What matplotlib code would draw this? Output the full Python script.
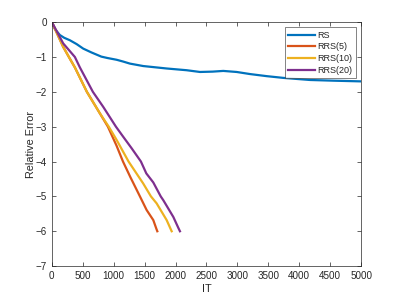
import matplotlib

matplotlib.use("Agg")
import matplotlib.pyplot as plt

# MATLAB-like palette
BLUE = "#0072BD"
ORANGE = "#D95319"
YELLOW = "#EDB120"
PURPLE = "#7E2F8E"
AXIS = "#262626"

# data
rs_x = [0, 50, 129, 200, 291, 400, 507, 640, 800, 900, 1047, 1150, 1262, 1477,
        1855, 2179, 2395, 2600, 2772, 2988, 3204, 3474, 3743, 4175, 4552, 5000]
rs_y = [0, -0.2, -0.37, -0.45, -0.52, -0.63, -0.76, -0.87, -0.99, -1.03, -1.08,
        -1.13, -1.19, -1.26, -1.33, -1.38, -1.43, -1.42, -1.40, -1.43, -1.49, -1.55,
        -1.60, -1.66, -1.68, -1.70]

rrs5_x = [0, 183, 275, 372, 566, 777, 906, 1047, 1150, 1270, 1424, 1532, 1640, 1694, 1705]
rrs5_y = [0, -0.71, -1.0, -1.3, -2.0, -2.62, -3.0, -3.55, -4.0, -4.45, -5.0,
          -5.39, -5.68, -5.95, -6.0]

rrs10_x = [0, 183, 275, 372, 566, 777, 920, 1047, 1240, 1477, 1602, 1694, 1856, 1937]
rrs10_y = [0, -0.71, -1.0, -1.3, -2.0, -2.62, -3.0, -3.38, -4.0, -4.63, -5.0,
           -5.2, -5.68, -6.0]

rrs20_x = [0, 183, 372, 453, 663, 830, 1036, 1154, 1290, 1440, 1527, 1640,
           1760, 1802, 1964, 2044, 2071]
rrs20_y = [0, -0.61, -1.0, -1.3, -2.0, -2.43, -3.0, -3.29, -3.62, -4.0, -4.34,
           -4.6, -5.0, -5.11, -5.59, -5.9, -6.0]

x_ticks = list(range(0, 5001, 500))
y_ticks = list(range(-7, 1))

plt.rcParams["font.family"] = ["Liberation Sans", "DejaVu Sans"]

fig = plt.figure(figsize=(3.99, 2.99), dpi=100)
ax = fig.add_axes([0.13, 0.11, 0.775, 0.816])

lw = 1.6
ax.plot(rs_x, rs_y, color=BLUE, lw=lw, label="RS")
ax.plot(rrs5_x, rrs5_y, color=ORANGE, lw=lw, label="RRS(5)")
ax.plot(rrs10_x, rrs10_y, color=YELLOW, lw=lw, label="RRS(10)")
ax.plot(rrs20_x, rrs20_y, color=PURPLE, lw=lw, label="RRS(20)")

ax.set_xlim(0, 5000)
ax.set_ylim(-7, 0)
ax.set_xticks(x_ticks)
ax.set_yticks(y_ticks)
ax.tick_params(direction="in", top=True, right=True, length=3, width=0.5,
               colors=AXIS, labelsize=7.1, labelcolor=AXIS, pad=3.5)
for s in ax.spines.values():
    s.set_color(AXIS)
    s.set_linewidth(0.5)

ax.set_xlabel("IT", fontsize=7.8, color=AXIS, labelpad=2.5)
ax.set_ylabel("Relative Error", fontsize=7.8, color=AXIS, labelpad=0)

leg = ax.legend(loc="upper right", fontsize=6.5, frameon=True, fancybox=False,
                edgecolor=AXIS, handlelength=3.0, handletextpad=0.25,
                borderpad=0.4, labelspacing=0.3, borderaxespad=0.55)
leg.get_frame().set_linewidth(0.5)
for t in leg.get_texts():
    t.set_color(AXIS)

fig.savefig("out.png", dpi=100, facecolor="white")
